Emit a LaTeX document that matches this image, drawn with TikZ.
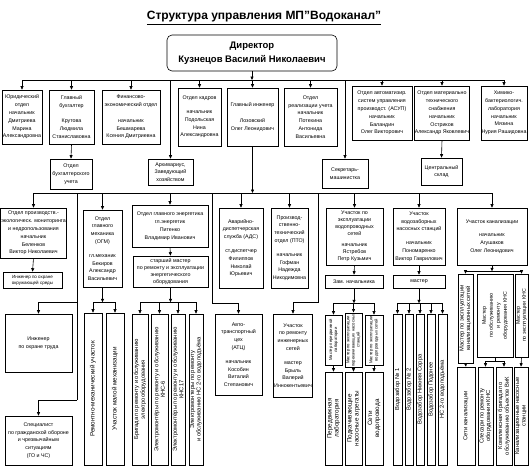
\documentclass[tikz,border=0pt]{standalone}
\usepackage{fontspec}
\setmainfont{Liberation Sans}
\usetikzlibrary{arrows.meta, positioning}

\newcommand{\deptfnt}{\fontsize{5.3pt}{7.8pt}\selectfont}
\newcommand{\tightfnt}{\fontsize{5.3pt}{7pt}\selectfont}
\newcommand{\smallfnt}{\fontsize{4.5pt}{6pt}\selectfont}
\newcommand{\vertfnt}{\fontsize{5.8pt}{6.6pt}\selectfont}
\newcommand{\mastfnt}{\fontsize{4.2pt}{5.1pt}\selectfont}
\newcommand{\bigvfnt}{\fontsize{6.3pt}{7pt}\selectfont}

\begin{document}
\begin{tikzpicture}[x=1pt, y=-1pt,
  dept/.style 2 args={draw, line width=0.6pt, minimum width=#1pt, minimum height=#2pt, inner sep=0.5pt, align=center, font=\deptfnt},
  vdept/.style 2 args={draw, line width=0.6pt, rotate=90, minimum width=#2pt, minimum height=#1pt, inner sep=0.5pt, align=center, font=\vertfnt},
  link/.style={line width=0.6pt},
  arr/.style={line width=0.6pt, -{Triangle[length=3.5pt, width=3pt]}}
]
\path[use as bounding box, fill=white] (0,0) rectangle (530,467);

% title and director
\node[font=\fontsize{12pt}{14pt}\selectfont\bfseries] (title) at (264,18) {\underline{Структура управления МП\char34 Водоканал\char34}};
\node[draw, line width=0.6pt, rounded corners=5pt, minimum width=170pt, minimum height=36pt, align=center,
      font=\fontsize{9.5pt}{14pt}\selectfont\bfseries] (dir) at (252,53) {Директор\\Кузнецов Василий Николаевич};

% first level
\node[dept={40}{54}] (jur) at (22,117) {Юридический\\отдел\\начальник\\Дмитриева\\Марина\\Александровна};
\node[dept={45}{54}] (buh) at (71.5,117) {Главный\\бухгалтер\\[8pt]Крутова\\Людмила\\Станиславовна};
\node[dept={58}{54}] (fin) at (131,117) {Финансово-\\экономический отдел\\[8pt]начальник\\Бешмарева\\Ксения Дмитриевна};
\node[dept={43}{58}] (kadr) at (199.5,117) {Отдел кадров\\[6pt]начальник\\Подольская\\Нина\\Александровна};
\node[dept={51}{58}] (ing) at (252.5,117) {Главный инженер\\[8pt]Лозовский\\Олег Леонидович};
\node[dept={53}{58}] (real) at (310.5,117) {Отдел\\реализации учета\\начальник\\Потехина\\Антонида\\Васильевна};
\node[dept={60}{54}] (asup) at (382,113) {Отдел автоматизир.\\систем управления\\производст. (АСУП)\\начальник\\Баландин\\Олег Викторович};
\node[dept={52}{54}] (mts) at (442,113) {Отдел материально\\технического\\снабжения\\начальник\\Остриков\\Александр Яковлевич};
\node[dept={46}{54}] (lab) at (504,113) {Химико-\\бактериологич.\\лаборатория\\начальник\\Мязина\\Нурия Рашидовна};

\node[dept={42}{30}] (buhotd) at (71,174) {Отдел\\бухгалтерского\\учета};
\node[dept={45}{26}] (arch) at (170.5,172) {Архивариус,\\Заведующий\\хозяйством};
\node[dept={46}{29}] (secr) at (345,173.5) {Секретарь-\\машинистка};
\node[dept={41}{27}] (sklad) at (441.5,171.5) {Центральный\\склад};

% second level
\node[dept={65}{50}] (mon) at (33.5,233) {Отдел производств.-\\экологическ. мониторинга\\и недропользования\\начальник\\Беленков\\Виктор Николаевич};
\node[dept={59}{16}, font=\smallfnt] (ohros) at (32.5,280) {Инженер по охране\\окружающей среды};
\node[dept={67}{58}] (ohrtr) at (38.5,343) {Инженер\\по охране труда};
\node[dept={67}{49}] (gochs) at (38.5,440.5) {Специалист\\по гражданской обороне\\и чрезвычайным\\ситуациям\\(ГО и ЧС)};

\node[dept={39}{77}] (ogm) at (102.5,248.5) {Отдел\\главного\\механика\\(ОГМ)\\[6pt]гл.механик\\Бекиров\\Александр\\Васильевич};
\node[dept={76}{42}] (energ) at (170,226) {Отдел главного энергетика\\гл.энергетик\\Питенко\\Владимир Иванович};
\node[dept={75}{31}, font=\tightfnt] (stm) at (170.5,271.5) {старший мастер\\по ремонту и эксплуатации\\энергетического\\оборудования};

\node[dept={44}{80}] (ads) at (241,248) {Аварийно-\\диспетчерская\\служба (АДС)\\[6pt]ст.диспетчер\\Филиппов\\Николай\\Юрьевич};
\node[dept={37}{80}] (pto) at (289.5,248) {Производ-\\ственно-\\технический\\отдел (ПТО)\\[6pt]начальник\\Гофман\\Надежда\\Никодимовна};
\node[dept={47}{81}] (atc) at (238.5,354.5) {Авто-\\транспортный\\цех\\(АТЦ)\\[6pt]начальник\\Кособин\\Виталий\\Степанович};
\node[dept={39}{83}] (irs) at (293,355.5) {Участок\\по ремонту\\инженерных\\сетей\\[6pt]мастер\\Брыль\\Валерий\\Иннокентьевич};

\node[dept={57}{57}, font=\tightfnt] (vodopr) at (354.5,236.5) {Участок по\\эксплуатации\\водопроводных\\сетей\\[4pt]начальник\\Ястребов\\Петр Кузьмич};
\node[dept={58}{13}] (zam) at (354,281.5) {Зам. начальника};
\node[dept={52}{57}] (vodozab) at (419,236.5) {Участок\\водозаборных\\насосных станций\\[6pt]начальник\\Пономаренко\\Виктор Гаврилович};
\node[dept={52}{13}] (mast) at (419,281.5) {мастер};
\node[dept={70}{57}] (kan) at (492,236.5) {Участок канализации\\[6pt]начальник\\Агушаков\\Олег Леонидович};

% vertical boxes
\node[vdept={18}{152}, font=\bigvfnt] (rmu) at (93,389) {Ремонтно-механический участок};
\node[vdept={18}{152}, font=\bigvfnt] (mmu) at (115,389) {Участок малой механизации};

\node[vdept={16}{151}] (brig) at (140,389.5) {Бригада по ремонту и обслуживанию\\электрооборудования};
\node[vdept={17}{151}] (kns6) at (159.5,389.5) {Электромонтёры по ремонту и обслуживанию\\КНС-6};
\node[vdept={14}{151}] (kns17) at (178,389.5) {Электромонтёры по ремонту и обслуживанию\\КНС17};
\node[vdept={14}{151}] (nsen) at (196,389.5) {Электромонтеры по ремонту\\и обслуживанию НС 2-го водоподъёма};

\node[vdept={17}{50}, font=\mastfnt] (mpl) at (333.5,340) {Мастер передвижной\\лаборатории};
\node[vdept={17}{50}, font=\mastfnt] (mpns) at (353.5,340) {Мастер по эксплуатации\\перекачивающих насосных\\станций};
\node[vdept={18}{50}, font=\mastfnt] (mvs) at (374,340) {Мастер по эксплуатации\\водопроводных сетей};
\node[vdept={17}{93}, font=\bigvfnt] (pl) at (333.5,418.5) {Передвижная\\лаборатория};
\node[vdept={17}{93}, font=\bigvfnt] (pna) at (353.5,418.5) {Подкачивающие\\насосные агрегаты};
\node[vdept={18}{93}, font=\bigvfnt] (sv) at (374,418.5) {Сети\\водопровода};

\node[vdept={9}{151}] (vz1) at (397.5,389.5) {Водозабор № 1};
\node[vdept={8}{151}] (vz2) at (409,389.5) {Водозабор № 2};
\node[vdept={8}{151}] (vz3) at (420,389.5) {Водозабор Нижняя Сорра};
\node[vdept={8}{151}] (vz4) at (431,389.5) {Водозабор Подонее};
\node[vdept={9}{151}] (vz5) at (442.5,389.5) {НС 2-го водоподъёма};

\node[vdept={15}{89}] (km1) at (465.5,318.5) {Мастер по эксплуатации\\канализационных сетей};
\node[vdept={36}{83}, font=\tightfnt] (km2) at (495,315.5) {Мастер\\по обслуживанию\\и ремонту\\оборудования КНС};
\node[vdept={13}{83}, font=\fontsize{5.3pt}{6pt}\selectfont] (km3) at (521.5,315.5) {Мастер\\по эксплуатации КНС};
\node[vdept={18}{98}] (sck) at (466,416) {Сети канализации};
\node[vdept={15}{98}] (sl) at (485.5,416) {Слесари по ремонту\\оборудования КНС};
\node[vdept={16}{98}] (kb) at (504,416) {Комплексная бригада по\\обслуживанию объектов ВиК};
\node[vdept={14}{98}] (knst) at (521,416) {Канализационные насосные\\станции};

% first bus
\coordinate (bus1) at (0,80);
\draw[link] (jur.north |- bus1) -- (lab.north |- bus1);
\draw[arr] (dir.south) -- (dir.south |- bus1);
\foreach \n in {jur,buh,fin,kadr,ing,real,asup,mts,lab}
  \draw[arr] (\n.north |- bus1) -- (\n.north);
\draw[arr] (arch.north |- bus1) -- (arch.north);
\draw[arr] (secr.north |- bus1) -- (secr.north);
\draw[arr] (buh.south) -- (buhotd.north);
\draw[arr] (mts.south) -- (sklad.north);

% second bus
\coordinate (bus2) at (0,193);
\draw[link] (mon.north |- bus2) -- (kan.north |- bus2);
\draw[arr] (ing.south) -- (ing.south |- bus2);
\foreach \n in {mon,ogm,energ,ads,pto,vodopr,vodozab,kan}
  \draw[arr] (\n.north |- bus2) -- (\n.north);

\draw[arr] (mon.south) -- (ohros.north);
\coordinate (b77) at (77,193);
\coordinate (br1) at (77,302);
\coordinate (br2) at (77,400);
\draw[link] (b77) -- (br2);
\draw[arr] (br1) -| (ohrtr.north);
\draw[arr] (br2) -| (gochs.north);

\draw[arr] (ogm.south) -- ++(0,15) coordinate (ogmbus);
\draw[link] (rmu.east |- ogmbus) -- (mmu.east |- ogmbus);
\foreach \n in {rmu,mmu}
  \draw[arr] (\n.east |- ogmbus) -- (\n.east);

\draw[arr] (energ.south) -- (stm.north);
\draw[arr] (stm.south) -- ++(0,15) coordinate (enbus);
\draw[link] (brig.east |- enbus) -- (nsen.east |- enbus);
\foreach \n in {brig,kns6,kns17,nsen}
  \draw[arr] (\n.east |- enbus) -- (\n.east);

\coordinate (b212) at (212,193);
\draw[arr] (b212) -- ++(0,110) -| (atc.north);
\coordinate (b318) at (318,193);
\draw[arr] (b318) -- ++(0,109) -| (irs.north);

\draw[arr] (vodopr.south) -- (zam.north);
\draw[arr] (zam.south) -- ++(0,15) coordinate (vpbus);
\draw[link] (mpl.east |- vpbus) -- (mvs.east |- vpbus);
\foreach \n in {mpl,mpns,mvs}
  \draw[arr] (\n.east |- vpbus) -- (\n.east);
\draw[arr] (mpl.west) -- (pl.east);
\draw[arr] (mpns.west) -- (pna.east);
\draw[arr] (mvs.west) -- (sv.east);

\draw[arr] (vodozab.south) -- (mast.north);
\draw[arr] (mast.south) -- ++(0,15) coordinate (vzbus);
\draw[link] (vz1.east |- vzbus) -- (vz5.east |- vzbus);
\foreach \n in {vz1,vz2,vz3,vz4,vz5}
  \draw[arr] (\n.east |- vzbus) -- (\n.east);

\draw[arr] (kan.south) -- ++(0,6) coordinate (knbus);
\draw[link] (km1.east |- knbus) -- (km3.east |- knbus);
\draw[arr] (km1.east |- knbus) -- (km1.east);
\draw[arr] (km3.east |- knbus) -- (km3.east);
\draw[arr] (km1.west) -- (sck.east);
\draw[link] (km2.west) -- ++(0,4) coordinate (km2bus);
\draw[link] (sl.east |- km2bus) -- (kb.east |- km2bus);
\draw[arr] (sl.east |- km2bus) -- (sl.east);
\draw[arr] (kb.east |- km2bus) -- (kb.east);
\draw[arr] (km3.west) -- (knst.east);
\end{tikzpicture}
\end{document}
